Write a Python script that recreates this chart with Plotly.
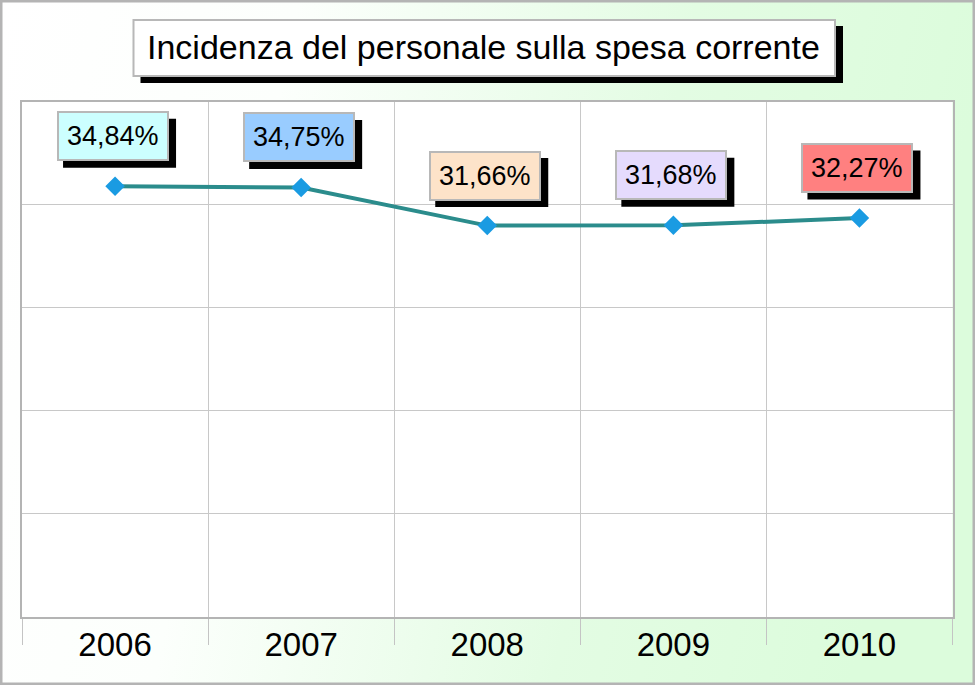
import base64
import plotly.graph_objects as go

# ---- data ----
years = ["2006", "2007", "2008", "2009", "2010"]
values = [34.84, 34.75, 31.66, 31.68, 32.27]
label_colors = ["#ccffff", "#99ccff", "#fde3c9", "#e5dbfd", "#ff8080"]
title_text = "Incidenza del personale sulla spesa corrente"

W, H = 975, 685
FONT = "Arial, Liberation Sans, sans-serif"
xs = list(range(len(years)))
labels = [f"{v:.2f}".replace(".", ",") + "%" for v in values]

# background gradient (white -> light green) as an SVG data URI
svg = (
    f'<svg xmlns="http://www.w3.org/2000/svg" width="{W}" height="{H}" '
    f'viewBox="0 0 {W} {H}" preserveAspectRatio="none">'
    '<defs><linearGradient id="g" x1="0" y1="0" x2="1" y2="0.15">'
    '<stop offset="0" stop-color="#ffffff"/>'
    '<stop offset="0.3" stop-color="#fcfffc"/>'
    '<stop offset="0.7" stop-color="#e3fce3"/>'
    '<stop offset="1" stop-color="#dcfcdc"/>'
    '</linearGradient></defs>'
    f'<rect x="0" y="0" width="{W}" height="{H}" fill="url(#g)"/></svg>'
)
bg_uri = "data:image/svg+xml;base64," + base64.b64encode(svg.encode()).decode()


def px(xp):
    return xp / W


def py(yp):
    return 1 - yp / H


fig = go.Figure()
fig.add_trace(go.Scatter(
    x=xs, y=values, mode="lines+markers",
    line=dict(color="#2b8c8c", width=4),
    marker=dict(symbol="diamond", size=15, color="#1a9be2",
                line=dict(width=0)),
    hoverinfo="skip", showlegend=False,
))

shapes = [
    # white plot area on top of the gradient
    dict(type="rect", xref="x domain", yref="y domain", layer="below",
         x0=0, x1=1, y0=0, y1=1, fillcolor="white", line=dict(width=0)),
    # title shadow and box
    dict(type="rect", xref="paper", yref="paper", layer="below",
         x0=px(140.5), x1=px(843), y0=py(83), y1=py(26),
         fillcolor="black", line=dict(width=0)),
    dict(type="rect", xref="paper", yref="paper", layer="below",
         x0=px(133.5), x1=px(835), y0=py(76), y1=py(20),
         fillcolor="white", line=dict(color="#b8b8b8", width=2)),
    # outer border
    dict(type="rect", xref="paper", yref="paper", layer="above",
         x0=0, x1=1, y0=0, y1=1, fillcolor="rgba(0,0,0,0)",
         line=dict(color="#b4b4b4", width=5)),
]

annotations = []
for x, v, t, c in zip(xs, values, labels, label_colors):
    # drop shadow behind each value label (pixel-sized, anchored at the point)
    shapes.append(dict(
        type="rect", xref="x", yref="y", xsizemode="pixel", ysizemode="pixel",
        xanchor=x, yanchor=v, x0=-52, x1=61, y0=18.5, y1=67.5,
        layer="above", fillcolor="black", line=dict(width=0),
    ))
    annotations.append(dict(
        x=x, y=v, xref="x", yref="y", text=t, showarrow=False,
        xshift=-2.5, yshift=50, bgcolor=c, bordercolor="#b8b8b8",
        borderwidth=2, borderpad=8, font=dict(family=FONT, size=27, color="black"),
    ))

annotations.append(dict(
    x=px(483.5), y=py(47.5), xref="paper", yref="paper", text=title_text,
    showarrow=False, xanchor="center", yanchor="middle",
    font=dict(family=FONT, size=34, color="black"),
))

fig.update_layout(
    width=W, height=H,
    margin=dict(l=0, r=0, t=0, b=0, pad=0),
    paper_bgcolor="white", plot_bgcolor="white",
    images=[dict(source=bg_uri, xref="paper", yref="paper", x=0, y=1,
                 sizex=1, sizey=1, sizing="stretch", layer="below")],
    shapes=shapes, annotations=annotations,
    showlegend=False,
    xaxis=dict(
        domain=[px(22), px(952.5)], range=[-0.5, len(years) - 0.5],
        tickmode="array", tickvals=xs, ticktext=years,
        tickfont=dict(family=FONT, size=33, color="black"),
        ticks="", ticklabelstandoff=-3,
        showgrid=False, zeroline=False,
        showline=True, linecolor="#b4b4b4", linewidth=2, mirror=True,
        minor=dict(tickvals=[i - 0.5 for i in range(len(years) + 1)],
                   ticks="outside", ticklen=26, tickcolor="#c4c4c4", tickwidth=1,
                   showgrid=True, gridcolor="#c8c8c8", gridwidth=1),
        automargin=False, fixedrange=True,
    ),
    yaxis=dict(
        domain=[py(617), py(101.5)], range=[0, 41.7],
        tick0=0, dtick=8.34, showticklabels=False, ticks="",
        showgrid=True, gridcolor="#c8c8c8", gridwidth=1, zeroline=False,
        showline=True, linecolor="#b4b4b4", linewidth=2, mirror=True,
        automargin=False, fixedrange=True,
    ),
)

fig.write_html(
    "out.html",
    config={"displayModeBar": False},
    post_script="document.body.style.margin='0';document.body.style.overflow='hidden';",
)
